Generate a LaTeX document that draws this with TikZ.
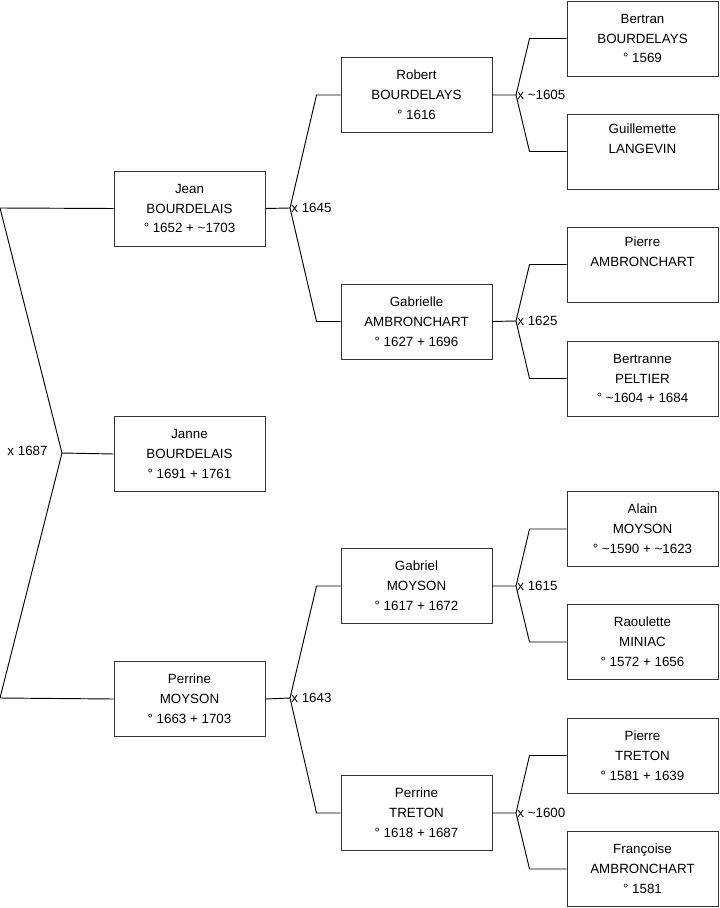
\documentclass[tikz,border=0pt]{standalone}
\usepackage{fontspec}
\setmainfont{Liberation Sans}

\tikzset{
  personne/.style={draw=black!80, line width=0.8pt, minimum width=4.53cm,
    minimum height=2.25cm, inner sep=0pt, align=center,
    font=\fontsize{11.4}{17}\selectfont},
  lien/.style={draw=black, line width=0.8pt},
  mariage/.style={inner sep=1pt, font=\fontsize{11.4}{13}\selectfont}
}

\begin{document}
\begin{tikzpicture}[x=0.03cm,y=-0.03cm]
\useasboundingbox (0,0) rectangle (719,908);

% generation 0
\node[personne] (jean) at (189.5,208.5) {Jean\\BOURDELAIS\\° 1652 + \textasciitilde1703};
\node[personne] (janne) at (189.5,454) {Janne\\BOURDELAIS\\° 1691 + 1761};
\node[personne] (perrineM) at (189.5,699) {Perrine\\MOYSON\\° 1663 + 1703};

% generation 1
\node[personne] (robert) at (416.5,95) {Robert\\BOURDELAYS\\° 1616};
\node[personne] (gabrielle) at (416.5,321.5) {Gabrielle\\AMBRONCHART\\° 1627 + 1696};
\node[personne] (gabriel) at (416.5,586) {Gabriel\\MOYSON\\° 1617 + 1672};
\node[personne] (perrineT) at (416.5,813) {Perrine\\TRETON\\° 1618 + 1687};

% generation 2
\node[personne] (bertran) at (642.5,38.5) {Bertran\\BOURDELAYS\\° 1569};
\node[personne] (guillemette) at (642.5,151.5) {Guillemette\\LANGEVIN\\\strut};
\node[personne] (pierreA) at (642.5,264.5) {Pierre\\AMBRONCHART\\\strut};
\node[personne] (bertranne) at (642.5,378.5) {Bertranne\\PELTIER\\° \textasciitilde1604 + 1684};
\node[personne] (alain) at (642.5,529) {Alain\\MOYSON\\° \textasciitilde1590 + \textasciitilde1623};
\node[personne] (raoulette) at (642.5,642) {Raoulette\\MINIAC\\° 1572 + 1656};
\node[personne] (pierreT) at (642.5,755.5) {Pierre\\TRETON\\° 1581 + 1639};
\node[personne] (francoise) at (642.5,869) {Françoise\\AMBRONCHART\\° 1581};

% mariage Jean x Perrine
\coordinate (m0) at (62,453);
\draw[lien] (janne.west) -- (m0) -- (0,208) -- (jean.west);
\draw[lien] (m0) -- (0,698) -- (perrineM.west);
\node[mariage, anchor=east] (d0) at (49,451) {x 1687};

% mariage Robert x Gabrielle
\coordinate (m1) at (290,208);
\draw[lien] (jean.east) -- (m1) -- ([xshift=-0.72cm]robert.west) -- (robert.west);
\draw[lien] (m1) -- ([xshift=-0.72cm]gabrielle.west) -- (gabrielle.west);
\node[mariage, anchor=west] (d1) at (m1) {x 1645};

% mariage Gabriel x Perrine
\coordinate (m2) at (290,698);
\draw[lien] (perrineM.east) -- (m2) -- ([xshift=-0.72cm]gabriel.west) -- (gabriel.west);
\draw[lien] (m2) -- ([xshift=-0.72cm]perrineT.west) -- (perrineT.west);
\node[mariage, anchor=west] (d2) at (m2) {x 1643};

% mariage Bertran x Guillemette
\coordinate (m3) at (516,95);
\draw[lien] (robert.east) -- (m3) -- ([xshift=-1.11cm]bertran.west) -- (bertran.west);
\draw[lien] (m3) -- ([xshift=-1.11cm]guillemette.west) -- (guillemette.west);
\node[mariage, anchor=west] (d3) at (m3) {x \textasciitilde1605};

% mariage Pierre x Bertranne
\coordinate (m4) at (516,321);
\draw[lien] (gabrielle.east) -- (m4) -- ([xshift=-1.11cm]pierreA.west) -- (pierreA.west);
\draw[lien] (m4) -- ([xshift=-1.11cm]bertranne.west) -- (bertranne.west);
\node[mariage, anchor=west] (d4) at (m4) {x 1625};

% mariage Alain x Raoulette
\coordinate (m5) at (516,586);
\draw[lien] (gabriel.east) -- (m5) -- ([xshift=-1.11cm]alain.west) -- (alain.west);
\draw[lien] (m5) -- ([xshift=-1.11cm]raoulette.west) -- (raoulette.west);
\node[mariage, anchor=west] (d5) at (m5) {x 1615};

% mariage Pierre x Francoise
\coordinate (m6) at (516,813);
\draw[lien] (perrineT.east) -- (m6) -- ([xshift=-1.11cm]pierreT.west) -- (pierreT.west);
\draw[lien] (m6) -- ([xshift=-1.11cm]francoise.west) -- (francoise.west);
\node[mariage, anchor=west] (d6) at (m6) {x \textasciitilde1600};

\end{tikzpicture}
\end{document}
